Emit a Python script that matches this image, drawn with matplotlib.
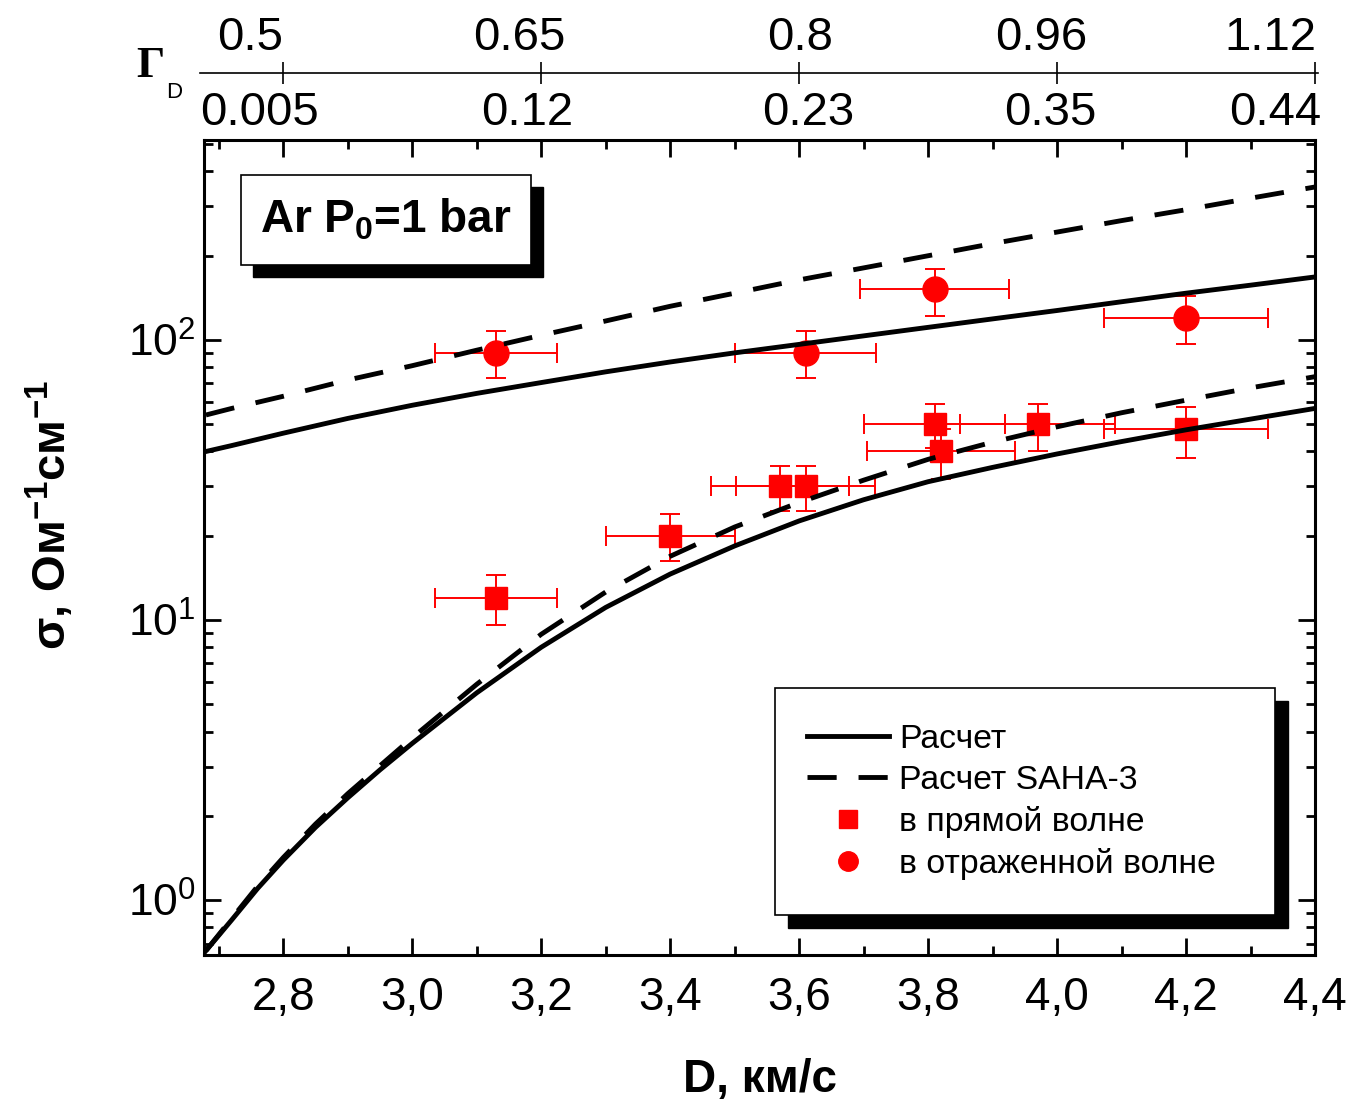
import matplotlib
matplotlib.use('Agg')
import matplotlib.pyplot as plt
from matplotlib.lines import Line2D
from matplotlib.patches import Rectangle
from matplotlib.ticker import MultipleLocator, LogLocator, NullFormatter, FuncFormatter

plt.rcParams['font.family'] = ['Liberation Sans', 'DejaVu Sans']
plt.rcParams['mathtext.fontset'] = 'custom'
plt.rcParams['mathtext.rm'] = 'Liberation Sans'
plt.rcParams['mathtext.bf'] = 'Liberation Sans:bold'
plt.rcParams['mathtext.it'] = 'Liberation Sans:italic'

# calculated curves, D in km/s
# reflected wave (upper pair)
D_up = [2.68, 2.72, 2.8, 2.9, 3.0, 3.1, 3.2, 3.3, 3.4, 3.5, 3.6, 3.7, 3.8, 3.9, 4.0, 4.1, 4.2, 4.3, 4.4]
sig_refl = [40, 42, 46.5, 52.5, 58.5, 64.5, 70.5, 77, 83.5, 90, 96.5, 103.5, 111, 119, 127.5, 137, 147, 157, 168]
sig_refl_saha = [54, 57, 63, 72, 81, 92, 104, 117, 132, 147, 164, 181, 200, 221, 243, 267, 292, 321, 352]
# incident wave (lower pair)
D_low = [2.68, 2.72, 2.76, 2.8, 2.85, 2.9, 2.95, 3.0, 3.1, 3.2, 3.3, 3.4, 3.5, 3.6, 3.7, 3.8, 3.9, 4.0,
         4.1, 4.2, 4.3, 4.4]
sig_inc = [0.66, 0.85, 1.1, 1.39, 1.82, 2.32, 2.92, 3.63, 5.5, 8.0, 11.1, 14.6, 18.4, 22.6, 26.9, 31.2,
           35.1, 39.2, 43.4, 47.8, 52.2, 57]
sig_inc_saha = [0.66, 0.86, 1.12, 1.42, 1.87, 2.4, 3.02, 3.8, 5.9, 8.9, 12.6, 16.9, 21.5, 26.3, 31.6, 37.5,
                43.2, 49, 55, 61, 67.5, 74]

# experiment: incident wave (squares)
D_sq = [3.13, 3.40, 3.57, 3.61, 3.81, 3.82, 3.97, 4.20]
sig_sq = [12, 20, 30, 30, 50, 40, 50, 48]
dD_sq = [0.095, 0.10, 0.107, 0.108, 0.11, 0.115, 0.12, 0.127]
sq_lo = [9.6, 16.2, 24.5, 24.5, 41, 32, 40, 38]
sq_hi = [14.5, 24, 35.5, 35.5, 59, 48, 59, 57.5]

# experiment: reflected wave (circles)
D_ci = [3.13, 3.61, 3.81, 4.20]
sig_ci = [90, 90, 152, 120]
dD_ci = [0.095, 0.109, 0.115, 0.127]
ci_lo = [73, 73, 122, 97]
ci_hi = [108, 108, 180, 144]

# top scale (Gamma_D)
top_D = [2.8, 3.2, 3.6, 4.0, 4.4]
gamma_upper = ['0.5', '0.65', '0.8', '0.96', '1.12']
gamma_lower = ['0.005', '0.12', '0.23', '0.35', '0.44']

labels = ['Расчет', 'Расчет SAHA-3', 'в прямой волне', 'в отраженной волне']

W, H = 1353, 1108
fig = plt.figure(figsize=(W / 100, H / 100), dpi=100)
ax = fig.add_axes([204 / W, 1 - 955 / H, 1111 / W, 815 / H])

dash = (6, 4.5)
ax.errorbar(D_sq, sig_sq, xerr=dD_sq,
            yerr=[[s - l for s, l in zip(sig_sq, sq_lo)], [h - s for s, h in zip(sig_sq, sq_hi)]],
            fmt='s', color='red', ms=16, elinewidth=1.4, capsize=7, capthick=1.4, zorder=2)
ax.errorbar(D_ci, sig_ci, xerr=dD_ci,
            yerr=[[s - l for s, l in zip(sig_ci, ci_lo)], [h - s for s, h in zip(sig_ci, ci_hi)]],
            fmt='o', color='red', ms=18, elinewidth=1.4, capsize=7, capthick=1.4, zorder=2)

ax.plot(D_up, sig_refl, color='k', lw=3.5, zorder=3)
ax.plot(D_low, sig_inc, color='k', lw=3.5, zorder=3)
ax.plot(D_up, sig_refl_saha, color='k', lw=3.5, dashes=dash, zorder=3)
ax.plot(D_low, sig_inc_saha, color='k', lw=3.5, dashes=dash, zorder=3)

ax.set_xlim(2.677, 4.4)
ax.set_yscale('log')
ax.set_ylim(0.637, 518)
ax.xaxis.set_major_locator(MultipleLocator(0.2))
ax.xaxis.set_minor_locator(MultipleLocator(0.1))
ax.xaxis.set_major_formatter(FuncFormatter(lambda v, p: f'{v:.1f}'.replace('.', ',')))
ax.yaxis.set_major_locator(LogLocator(base=10, numticks=10))
ax.yaxis.set_minor_locator(LogLocator(base=10, subs=range(2, 10), numticks=20))
ax.yaxis.set_minor_formatter(NullFormatter())
for s in ax.spines.values():
    s.set_linewidth(2.2)
ax.tick_params(which='both', direction='in', top=True, right=True, width=2.0)
ax.tick_params(which='major', length=12)
ax.tick_params(which='minor', length=6.5)
ax.tick_params(axis='x', labelsize=33, pad=15)
ax.tick_params(axis='y', labelsize=32, pad=6)

# "Ar P0=1 bar" box
bx, by, bw, bh = 0.0333, 0.847, 0.2607, 0.11
ax.add_patch(Rectangle((bx + 0.0108, by - 0.0147), bw, bh, transform=ax.transAxes,
                       facecolor='black', edgecolor='black', zorder=6))
ax.add_patch(Rectangle((bx, by), bw, bh, transform=ax.transAxes,
                       facecolor='white', edgecolor='black', lw=1.2, zorder=7))
ax.text(0.1638, 0.887, r'Ar P$_{\mathbf{0}}$=1 bar', transform=ax.transAxes, fontsize=33,
        weight='bold', ha='center', va='baseline', zorder=8)

# legend box
lx, ly, lw_, lh = 0.514, 0.049, 0.45, 0.279
ax.add_patch(Rectangle((lx + 0.0117, ly - 0.016), lw_, lh, transform=ax.transAxes,
                       facecolor='black', edgecolor='black', zorder=6))
ax.add_patch(Rectangle((lx, ly), lw_, lh, transform=ax.transAxes,
                       facecolor='white', edgecolor='black', lw=1.2, zorder=7))
handles = [
    Line2D([], [], color='k', lw=3.5),
    Line2D([], [], color='k', lw=3.5, dashes=dash),
    Line2D([], [], ls='none', marker='s', color='red', ms=13),
    Line2D([], [], ls='none', marker='o', color='red', ms=14),
]
leg = ax.legend(handles, labels, loc='center', bbox_to_anchor=(0.7265, 0.188), frameon=False,
                fontsize=24.3, handlelength=2.43, handletextpad=0.3, labelspacing=0.3,
                borderpad=0, borderaxespad=0)
leg.set_zorder(10)

# top Gamma_D scale
axt = fig.add_axes([200 / W, 1 - 73 / H, 1118 / W, 0.0001])
axt.patch.set_visible(False)
axt.set_xlim(2.671, 4.405)
axt.set_yticks([])
for k in ['left', 'right', 'top']:
    axt.spines[k].set_visible(False)
axt.spines['bottom'].set_linewidth(1.2)
axt.set_xticks(top_D)
axt.set_xticklabels([])
axt.tick_params(axis='x', direction='inout', length=16, width=1.2)

upper_x = [250, 519, 800, 1041, 1270]
lower_x = [259, 527, 808, 1050, 1275]
for xp, t in zip(upper_x, gamma_upper):
    fig.text(xp / W, 1 - 50 / H, t, fontsize=34, ha='center', va='baseline')
for xp, t in zip(lower_x, gamma_lower):
    fig.text(xp / W, 1 - 125 / H, t, fontsize=34, ha='center', va='baseline')

fig.text(150 / W, 1 - 66 / H, 'Γ', family='Liberation Serif', fontsize=32, weight='bold',
         ha='center', va='center')
fig.text(174 / W, 1 - 92 / H, 'D', fontsize=16, ha='center', va='center')

fig.text(760 / W, 1 - 1080 / H, 'D, км/с', fontsize=33, weight='bold', ha='center', va='center')
fig.text(50 / W, 1 - 515 / H, r'σ, Ом$^{\mathbf{-1}}$см$^{\mathbf{-1}}$', rotation=90, fontsize=34,
         weight='bold', ha='center', va='center')

fig.savefig('out.png', dpi=100)
